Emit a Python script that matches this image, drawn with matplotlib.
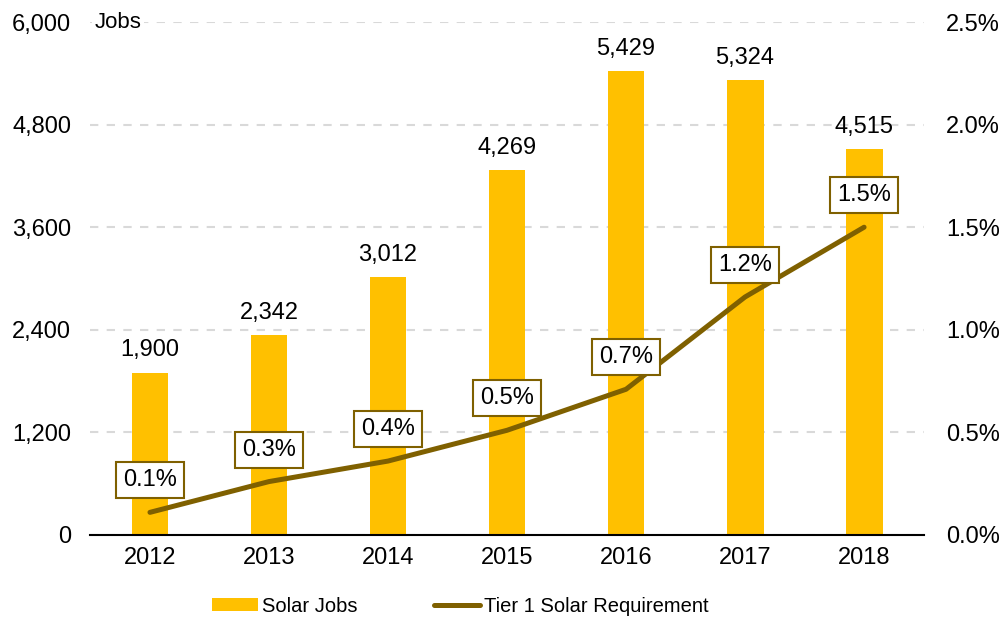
import matplotlib.pyplot as plt
import numpy as np

plt.rcParams['font.family'] = ['Liberation Sans', 'DejaVu Sans']

years = ['2012', '2013', '2014', '2015', '2016', '2017', '2018']
solar_jobs = [1900, 2342, 3012, 4269, 5429, 5324, 4515]
tier1_req = [0.11, 0.26, 0.36, 0.51, 0.71, 1.16, 1.50]
tier1_labels = ['0.1%', '0.3%', '0.4%', '0.5%', '0.7%', '1.2%', '1.5%']

bar_col = '#FFC000'
line_col = '#7F6000'

fig = plt.figure(figsize=(10.05, 6.22), dpi=100)
ax = fig.add_axes([0.090, 0.140, 0.829, 0.8245])
x = np.arange(len(years))

bars = ax.bar(x, solar_jobs, width=0.31, color=bar_col, label='Solar Jobs', zorder=2)
ax.set_xlim(-0.5, len(years) - 0.5)
ax.set_ylim(0, 6000)
ax.set_yticks(np.arange(0, 6001, 1200))
ax.set_yticklabels([f'{v:,}' for v in range(0, 6001, 1200)])
ax.set_xticks(x)
ax.set_xticklabels(years)
ax.tick_params(length=0, labelsize=17, pad=14)
ax.tick_params(axis='x', pad=9)
for s in ['top', 'right', 'left']:
    ax.spines[s].set_visible(False)
ax.spines['bottom'].set_linewidth(1.5)
ax.grid(axis='y', color='#d9d9d9', linestyle=(0, (4, 4)), linewidth=1.5, zorder=0)
ax.set_axisbelow(True)

for xi, v in zip(x, solar_jobs):
    ax.annotate(f'{v:,}', (xi, v), xytext=(0, 8), textcoords='offset points',
                ha='center', va='bottom', fontsize=17)

ax.text(0.005, 1.0, 'Jobs', transform=ax.transAxes, ha='left', va='center', fontsize=16,
        bbox=dict(facecolor='white', edgecolor='none', pad=2))

ax2 = ax.twinx()
ax2.plot(x, tier1_req, color=line_col, linewidth=3.6, solid_capstyle='round',
         label='Tier 1 Solar Requirement', zorder=3)
ax2.set_ylim(0, 2.5)
ax2.set_yticks(np.arange(0, 2.51, 0.5))
ax2.set_yticklabels([f'{v:.1f}%' for v in np.arange(0, 2.51, 0.5)])
ax2.tick_params(length=0, labelsize=17, pad=16)
for s in ['top', 'right', 'left', 'bottom']:
    ax2.spines[s].set_visible(False)

for xi, v, lab in zip(x, tier1_req, tier1_labels):
    ax2.annotate(lab, (xi, v), xytext=(0, 23), textcoords='offset points',
                 ha='center', va='center', fontsize=17,
                 bbox=dict(boxstyle='square,pad=0.3', facecolor='white',
                           edgecolor=line_col, linewidth=1.5))

h1, l1 = ax.get_legend_handles_labels()
h2, l2 = ax2.get_legend_handles_labels()
fig.legend(h1 + h2, l1 + l2, loc='center', bbox_to_anchor=(0.458, 0.025), ncol=2,
           frameon=False, fontsize=14.5, handlelength=2.3, handleheight=0.6,
           columnspacing=3.8, handletextpad=0.2)

fig.savefig('out.png', dpi=100)
